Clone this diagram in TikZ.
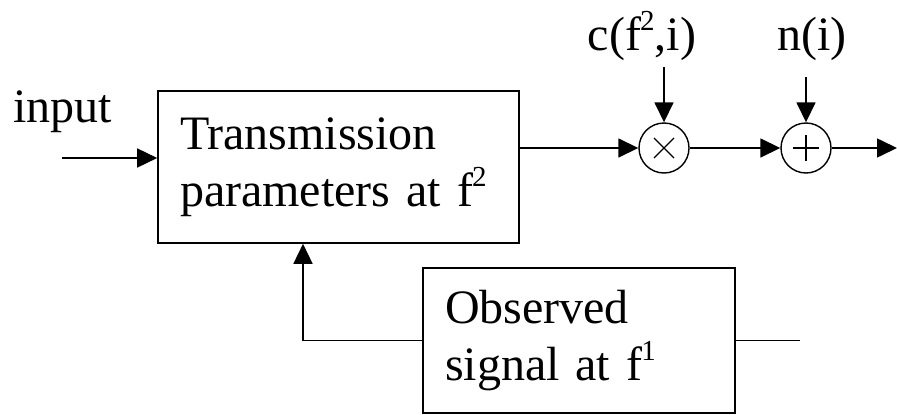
\documentclass[tikz,border=0pt]{standalone}
\usepackage{fontspec}
\setmainfont{Liberation Serif}
\usetikzlibrary{arrows.meta}
\newcommand{\mysup}[1]{\kern-1pt\raisebox{20pt}{\fontsize{29}{29}\selectfont #1}}
\begin{document}
\begin{tikzpicture}[x=1pt,y=-1pt,
  txt/.style={font=\fontsize{48}{57}\selectfont, inner sep=0pt},
  blk/.style={draw, line width=1.6pt, font=\fontsize{48}{57}\selectfont, align=left, inner xsep=22pt, inner ysep=0pt},
  junc/.style={draw, circle, line width=1.4pt, minimum size=50pt, inner sep=0pt},
  arr/.style={-{Triangle[length=20pt,width=19pt]}, line width=1.6pt},
  ln/.style={line width=1.6pt}]
\useasboundingbox (0,0) rectangle (897,415);
% blocks
\node[blk, minimum width=361pt, minimum height=152pt, text width=317pt] (tx) at (338.5,167)
  {Transmission\\parameters at f\mysup{2}};
\node[blk, minimum width=312pt, minimum height=145pt, text width=268pt] (obs) at (579,340.5)
  {Observed\\signal at f\mysup{1}};
% junctions
\node[junc] (m) at (664,148) {};
\node[junc] (p) at (806,148) {};
\draw[line width=1.2pt] ([shift={(-10,-10)}]m.center) -- ([shift={(10,10)}]m.center)
  ([shift={(-10,10)}]m.center) -- ([shift={(10,-10)}]m.center);
\draw[line width=1.2pt] ([shift={(-13,0)}]p.center) -- ([shift={(13,0)}]p.center)
  ([shift={(0,-13)}]p.center) -- ([shift={(0,13)}]p.center);
% labels
\node[txt, anchor=base west] (inlbl) at (13,122) {input};
\node[txt, anchor=base] (clbl) at (642,50) {c(f\mysup{2},i)};
\node[txt, anchor=base] (nlbl) at (812,50) {n(i)};
% coordinates
\coordinate (in) at (62,158);
\coordinate (cin) at (664,67);
\coordinate (nin) at (806,77);
\coordinate (out) at (897,148);
\coordinate (obsout) at (800,340.5);
\coordinate (fb) at (303,340.5);
% connectors
\draw[arr] (in) -- (tx.west |- in);
\draw[arr] (tx.east |- m.center) -- (m.west);
\draw[arr] (m.east) -- (p.west);
\draw[arr] (p.east) -- (out);
\draw[arr] (cin) -- (m.north);
\draw[arr] (nin) -- (p.north);
\draw[arr] (obs.west) -- (fb) -- (fb |- tx.south);
\draw[ln] (obs.east) -- (obsout);
\end{tikzpicture}
\end{document}
